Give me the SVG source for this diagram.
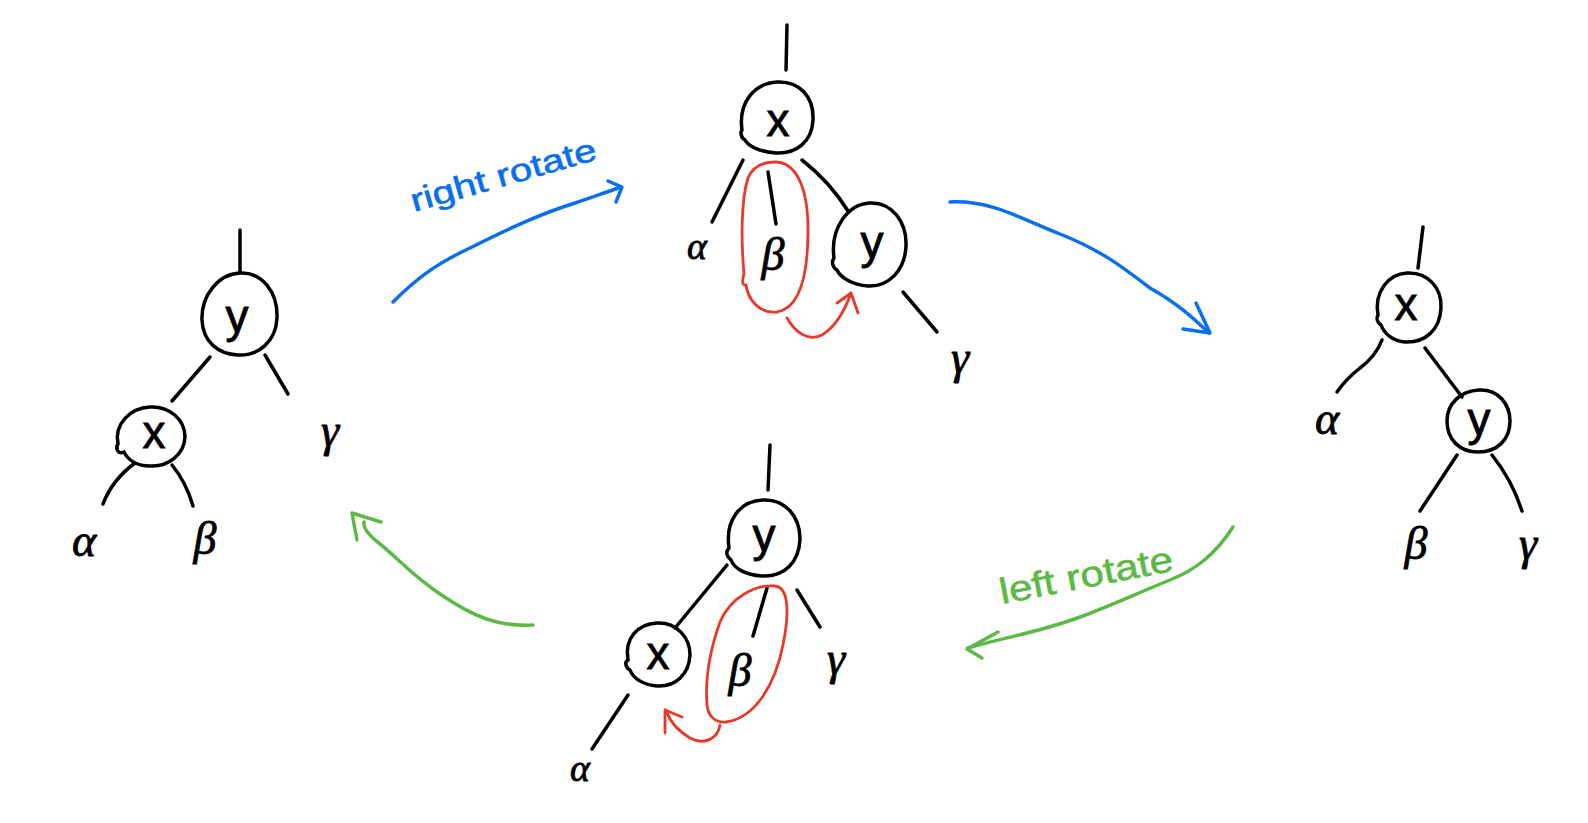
<svg xmlns="http://www.w3.org/2000/svg" width="1588" height="823" viewBox="0 0 1588 823">
<defs>
<style>
.bg{fill:#ffffff}
.node{fill:none;stroke:#000;stroke-width:3.5}
.edge{fill:none;stroke:#000;stroke-width:3.5;stroke-linecap:round}
.lbl{font-family:"Liberation Sans","DejaVu Sans",sans-serif;font-size:46px;fill:#000;stroke:#000;stroke-width:0.8;text-anchor:middle;dominant-baseline:central}
.gk{font-family:"Liberation Serif","DejaVu Serif",serif;font-style:italic;font-size:46px;fill:#000;stroke:#000;stroke-width:0.8;text-anchor:middle;dominant-baseline:central}
.gks{font-size:38px}
.blue{fill:none;stroke:#0a6ef0;stroke-width:3.5;stroke-linecap:round;stroke-linejoin:round}
.green{fill:none;stroke:#5cb947;stroke-width:3.5;stroke-linecap:round;stroke-linejoin:round}
.red{fill:none;stroke:#e8392a;stroke-width:2.8;stroke-linecap:round;stroke-linejoin:round}
.bt{font-family:"Liberation Sans","DejaVu Sans",sans-serif;font-size:32px;fill:#0a6ef0;stroke:#0a6ef0;stroke-width:0.6}
.gt{font-family:"Liberation Sans","DejaVu Sans",sans-serif;font-size:36px;fill:#5cb947;stroke:#5cb947;stroke-width:0.6}
</style>
</defs>
<rect class="bg" x="0" y="0" width="1588" height="823"/>

<g id="connectors">
  <!-- tree 1 -->
  <line class="edge" x1="240" y1="230" x2="240" y2="272"/>
  <line class="edge" x1="210" y1="357" x2="172" y2="401"/>
  <line class="edge" x1="265" y1="355" x2="288" y2="394"/>
  <path class="edge" d="M135,463 Q112,480 103,504"/>
  <path class="edge" d="M172,465 Q186,482 193,506"/>
  <!-- tree 2 -->
  <line class="edge" x1="787" y1="25" x2="786" y2="70"/>
  <line class="edge" x1="743" y1="160" x2="712" y2="222"/>
  <line class="edge" x1="768" y1="172" x2="776" y2="224"/>
  <path class="edge" d="M802,160 Q830,182 848,211"/>
  <line class="edge" x1="903" y1="292" x2="937" y2="332"/>
  <!-- tree 3 -->
  <line class="edge" x1="1423" y1="227" x2="1418" y2="268"/>
  <path class="edge" d="M1382,340 Q1376,356 1360,368 Q1345,380 1337,392"/>
  <line class="edge" x1="1425" y1="348" x2="1462" y2="397"/>
  <line class="edge" x1="1457" y1="455" x2="1420" y2="511"/>
  <path class="edge" d="M1492,455 Q1512,480 1522,511"/>
  <!-- tree 4 -->
  <line class="edge" x1="770" y1="445" x2="768" y2="490"/>
  <line class="edge" x1="727" y1="565" x2="675" y2="628"/>
  <line class="edge" x1="628" y1="695" x2="592" y2="749"/>
  <line class="edge" x1="767" y1="588" x2="753" y2="636"/>
  <line class="edge" x1="797" y1="590" x2="820" y2="627"/>

  <!-- blue right rotate arrow -->
  <path class="blue" d="M393,302 C420,275 440,262 470,248 C510,228 540,214 575,203 C595,196 610,191 621,187"/>
  <path class="blue" d="M608,181 L622,187 L616,202"/>
  <!-- blue arrow to right tree -->
  <path class="blue" d="M950,202 C990,200 1020,218 1060,234 C1100,250 1120,265 1150,288 C1180,305 1195,320 1209,333"/>
  <path class="blue" d="M1196,303 L1210,333 L1183,329"/>
  <!-- green left rotate arrow -->
  <path class="green" d="M1233,527 C1215,555 1195,570 1170,580 C1140,592 1110,606 1080,617 C1040,632 1010,636 968,648"/>
  <path class="green" d="M998,632 L967,649 L982,658"/>
  <!-- green arrow back to left tree -->
  <path class="green" d="M533,625 C500,627 475,618 440,594 C410,574 395,555 375,540 C366,532 363,527 364,522"/>
  <path class="green" d="M381,522 L352,513 L357,540"/>
  <!-- red arrows -->
  <path class="red" d="M787,318 C795,332 808,342 822,335 C835,327 845,310 851,293"/>
  <path class="red" d="M837,303 L851,293 L858,313"/>
  <path class="red" d="M720,725 C718,738 705,746 690,738 C678,731 670,722 666,710"/>
  <path class="red" d="M665,733 L665,710 L682,717"/>
</g>

<g id="tree1">
  <g id="t1-y"><path class="node" d="M240,273 C262,272 278,292 277,318 C276,342 258,356 238,355 C218,354 203,342 202,320 C201,296 218,274 240,273 Z"/><text class="lbl" x="237" y="316">y</text></g>
  <g id="t1-x"><path class="node" d="M150,407 C170,406 185,420 185,437 C184,455 168,467 150,466 C137,466 128,460 124,452 C118,455 115,448 118,444 C114,424 130,408 150,407 Z"/><text class="lbl" x="154" y="432">x</text></g>
  <g id="t1-alpha"><text class="gk" x="84" y="540">α</text></g>
  <g id="t1-beta"><text class="gk" x="205" y="538">β</text></g>
  <g id="t1-gamma"><text class="gk" x="330" y="430">γ</text></g>
</g>

<g id="tree2">
  <g id="t2-x"><path class="node" d="M777,82 C800,81 814,97 813,120 C812,142 796,154 776,153 C760,152 748,146 745,140 C741,138 740,132 742,130 C738,102 755,83 777,82 Z"/><text class="lbl" x="778" y="120">x</text></g>
  <g id="t2-y"><path class="node" d="M870,203 C892,202 907,222 906,246 C905,270 889,287 868,286 C852,285 840,277 837,270 C833,268 831,262 834,258 C830,228 848,204 870,203 Z"/><text class="lbl" x="872" y="242">y</text></g>
  <g id="t2-beta-group"><path class="red" d="M775,162 C795,162 808,185 808,230 C808,275 800,308 777,312 C760,314 748,300 746,285 C742,286 742,280 744,274 C741,240 741,200 748,178 C753,166 763,162 775,162 Z"/><text class="gk" x="773" y="254">β</text></g>
  <g id="t2-alpha"><text class="gk gks" x="697" y="246">α</text></g>
  <g id="t2-gamma"><text class="gk" x="960" y="357">γ</text></g>
</g>

<g id="tree3">
  <g id="t3-x"><path class="node" d="M1407,273 C1428,272 1442,288 1441,308 C1440,330 1425,343 1405,342 C1392,341 1384,333 1381,325 C1377,322 1376,318 1378,315 C1374,292 1388,274 1407,273 Z"/><text class="lbl" x="1406" y="304">x</text></g>
  <g id="t3-y"><path class="node" d="M1479,390 C1498,389 1510,404 1510,421 C1510,440 1497,452 1478,452 C1460,452 1447,440 1447,421 C1447,403 1461,391 1479,390 Z"/><text class="lbl" x="1479" y="419">y</text></g>
  <g id="t3-alpha"><text class="gk" x="1327" y="418">α</text></g>
  <g id="t3-beta"><text class="gk" x="1416" y="543">β</text></g>
  <g id="t3-gamma"><text class="gk" x="1528" y="543">γ</text></g>
</g>

<g id="tree4">
  <g id="t4-y"><path class="node" d="M763,500 C785,499 800,516 800,539 C799,562 785,577 762,576 C745,575 734,568 731,560 C727,557 725,552 729,548 C725,520 740,501 763,500 Z"/><text class="lbl" x="764" y="535">y</text></g>
  <g id="t4-x"><path class="node" d="M657,623 C676,622 690,637 690,655 C689,674 676,687 657,686 C643,685 633,678 630,670 C626,668 624,662 628,660 C624,638 638,624 657,623 Z"/><text class="lbl" x="658" y="653">x</text></g>
  <g id="t4-beta-group"><path class="red" d="M775,586 C788,587 790,610 783,645 C775,685 755,718 726,722 C714,723 708,715 707,705 C705,680 710,650 720,622 C730,598 755,584 775,586 Z"/><text class="gk" x="740" y="670">β</text></g>
  <g id="t4-alpha"><text class="gk gks" x="580" y="768">α</text></g>
  <g id="t4-gamma"><text class="gk" x="836" y="658">γ</text></g>
</g>

<g id="labels">
  <text class="bt" transform="translate(414,212) rotate(-16)" textLength="192" lengthAdjust="spacingAndGlyphs">right  rotate</text>
  <text class="gt" transform="translate(1002,604) rotate(-11)" textLength="176" lengthAdjust="spacingAndGlyphs">left   rotate</text>
</g>
</svg>
